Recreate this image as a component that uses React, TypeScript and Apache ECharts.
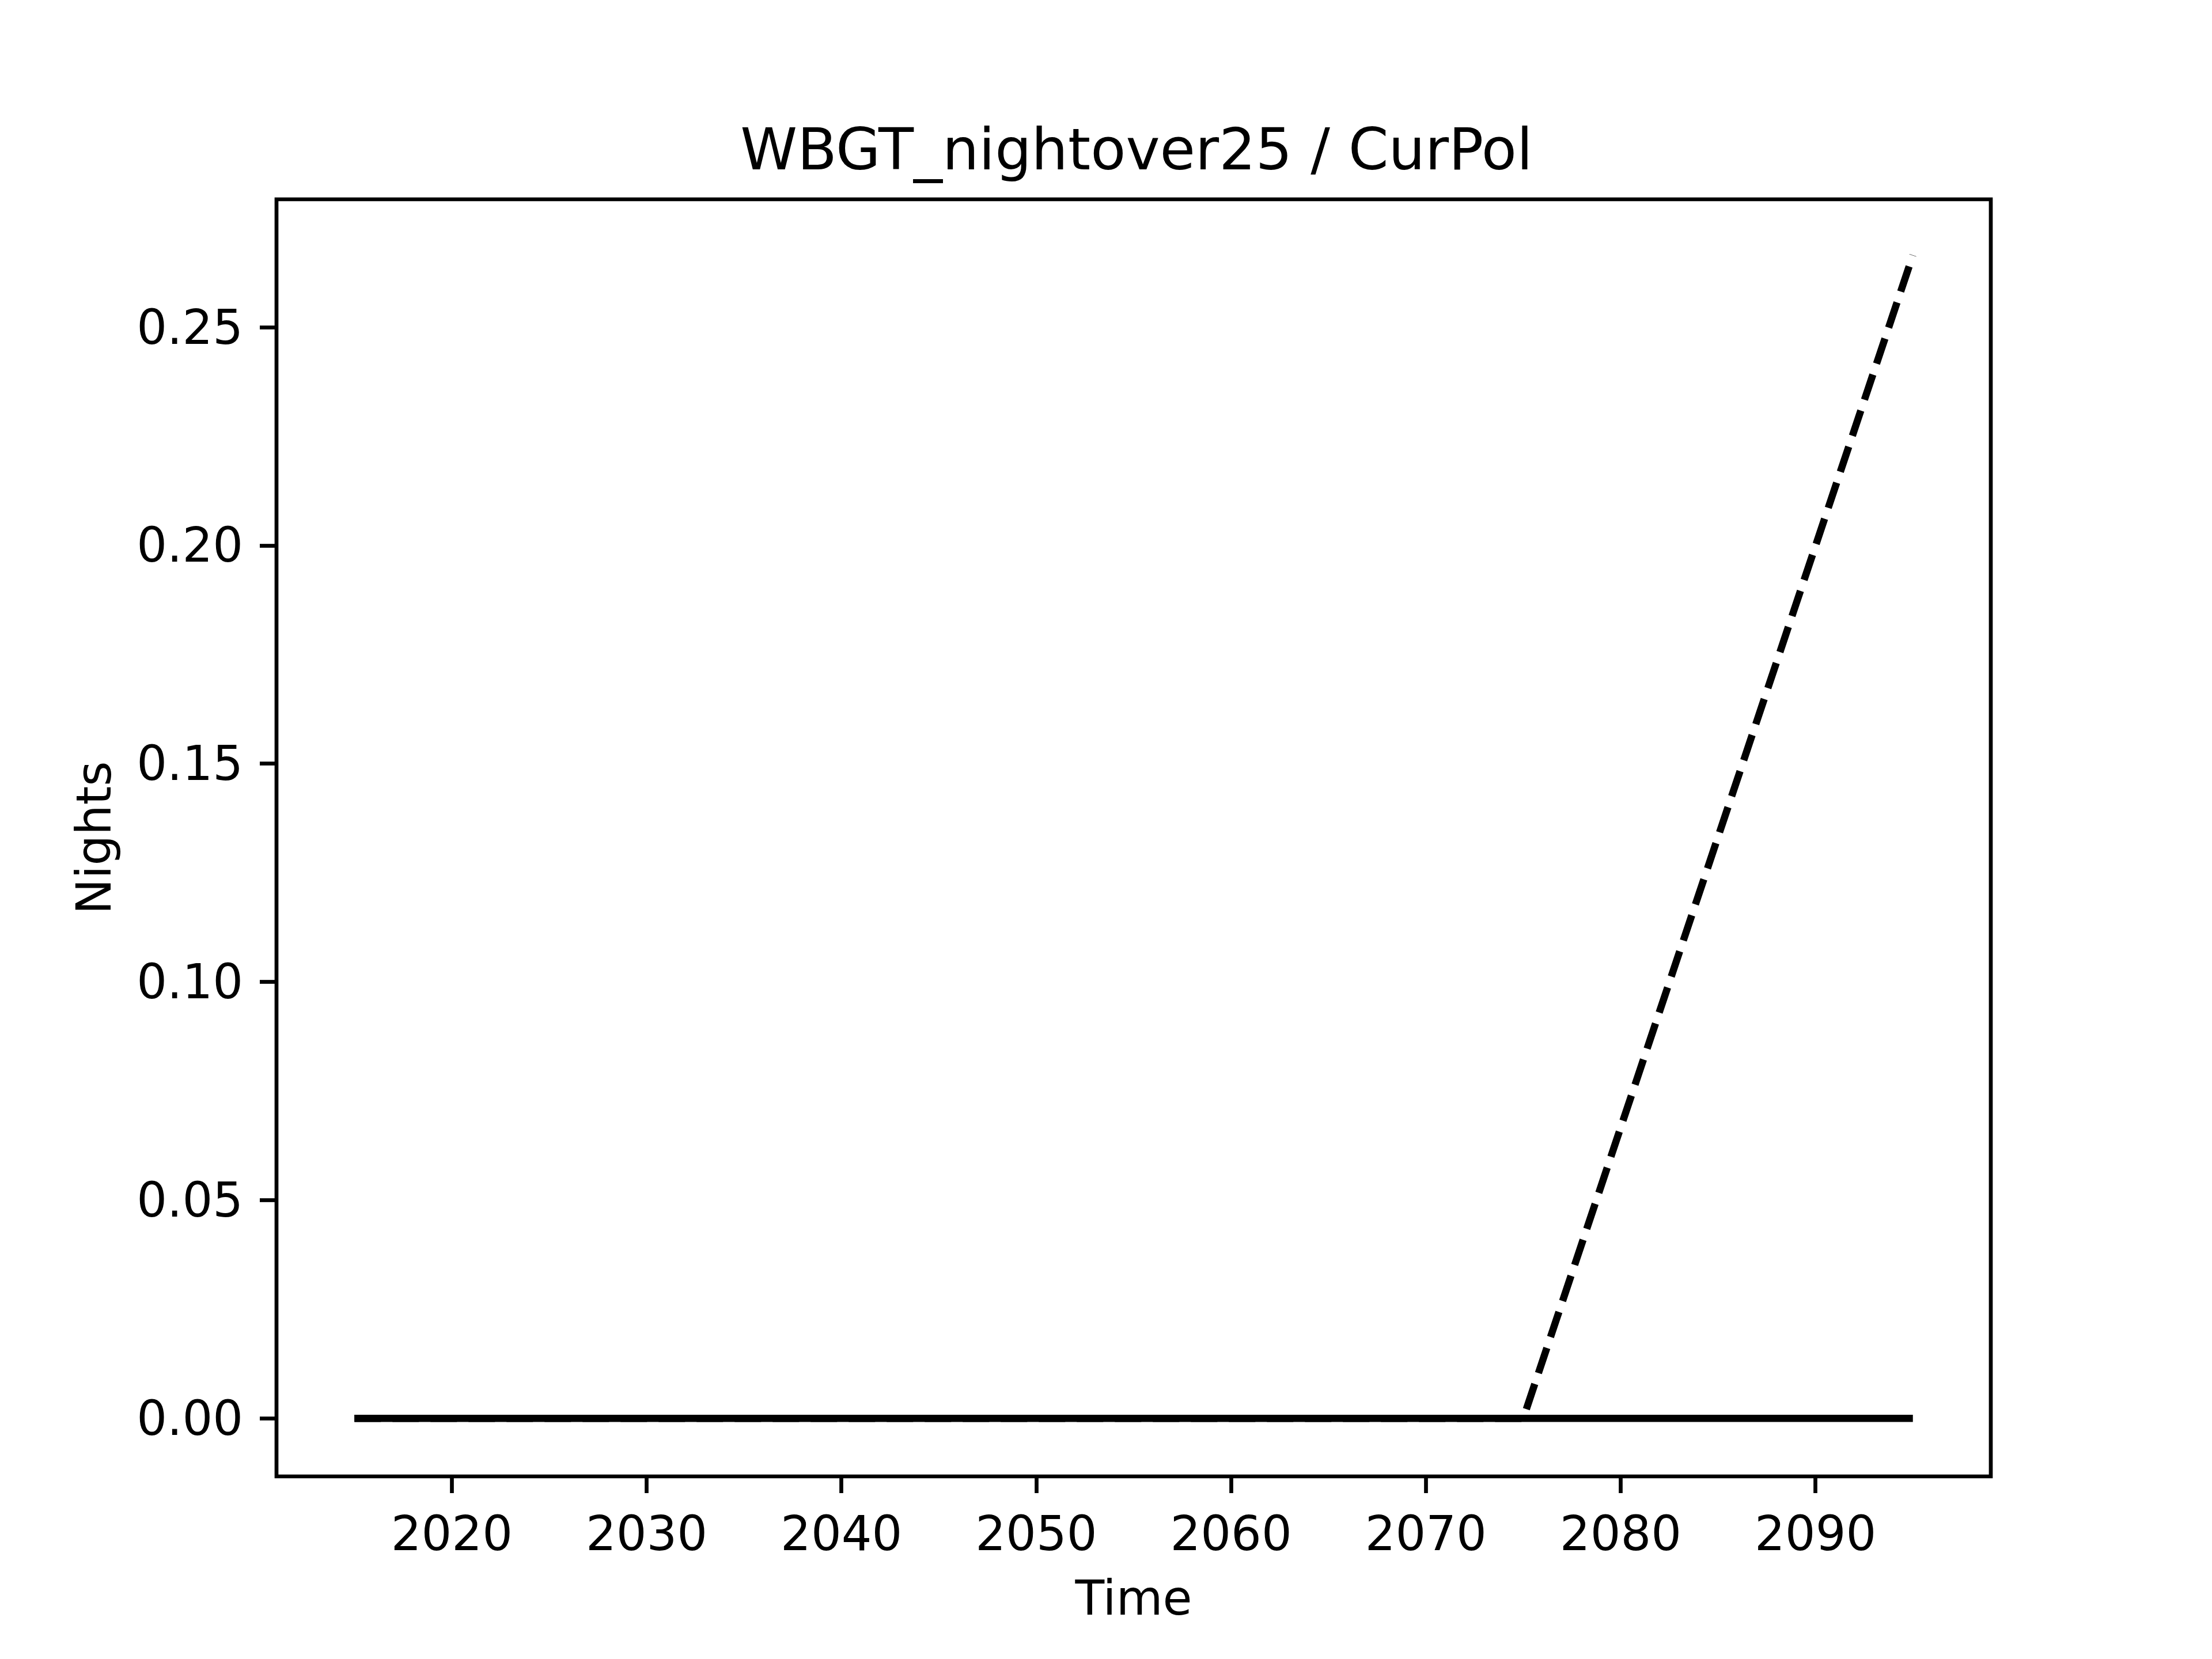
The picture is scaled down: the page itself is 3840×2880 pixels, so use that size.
import React, { useEffect, useRef } from "react";
import * as echarts from "echarts";

const years = [2015, 2035, 2055, 2075, 2095];
const solidValues = [0, 0, 0, 0, 0];
const dashedValues = [0, 0, 0, 0, 0.2665];
const xTicks = [2020, 2030, 2040, 2050, 2060, 2070, 2080, 2090];
const yTicks = [0, 0.05, 0.1, 0.15, 0.2, 0.25];
const titleText = "WBGT_nightover25 / CurPol";
const xName = "Time";
const yName = "Nights";

const FONT = "DejaVu Sans";

export default function App() {
  const ref = useRef<HTMLDivElement>(null);
  useEffect(() => {
    if (!ref.current) return;
    const chart = echarts.init(ref.current, undefined, { renderer: "svg" });
    const tickStyle = { show: true, length: 29, inside: false, lineStyle: { color: "#000", width: 6.7 } };
    chart.setOption({
      animation: false,
      backgroundColor: "#fff",
      title: {
        text: titleText,
        left: 1968,
        top: 204,
        textAlign: "center",
        textStyle: { fontFamily: FONT, fontSize: 100, fontWeight: "normal", color: "#000" },
      },
      grid: {
        left: 480,
        right: 384,
        top: 346,
        bottom: 317,
        show: true,
        borderColor: "#000",
        borderWidth: 6.7,
        backgroundColor: "transparent",
        containLabel: false,
      },
      xAxis: {
        type: "value",
        min: 2011,
        max: 2099,
        position: "bottom",
        name: xName,
        nameLocation: "middle",
        nameGap: 170,
        nameTextStyle: { fontFamily: FONT, fontSize: 83, color: "#000" },
        axisLine: { show: false, onZero: false },
        splitLine: { show: false },
        axisTick: { ...tickStyle, customValues: xTicks },
        axisLabel: {
          customValues: xTicks,
          margin: 58,
          fontFamily: FONT,
          fontSize: 83,
          color: "#000",
          formatter: (v: number) => String(v),
        },
      },
      yAxis: {
        type: "value",
        min: -0.0133,
        max: 0.2793,
        position: "left",
        name: yName,
        nameLocation: "middle",
        nameGap: 275,
        nameRotate: 90,
        nameTextStyle: { fontFamily: FONT, fontSize: 83, color: "#000" },
        axisLine: { show: false, onZero: false },
        splitLine: { show: false },
        axisTick: { ...tickStyle, customValues: yTicks },
        axisLabel: {
          customValues: yTicks,
          margin: 58,
          fontFamily: FONT,
          fontSize: 83,
          color: "#000",
          formatter: (v: number) => v.toFixed(2),
        },
      },
      series: [
        {
          type: "line",
          data: years.map((y, i) => [y, solidValues[i]]),
          showSymbol: false,
          lineStyle: { color: "#000", width: 12.5, type: "solid", cap: "butt" },
          z: 2,
        },
        {
          type: "line",
          data: years.map((y, i) => [y, dashedValues[i]]),
          showSymbol: false,
          lineStyle: { color: "#000", width: 12.5, type: [46, 20], cap: "butt" },
          z: 3,
        },
      ],
    });
    return () => chart.dispose();
  }, []);
  return (
    <div
      ref={ref}
      style={{ position: "absolute", left: 0, top: 0, width: 3840, height: 2880, background: "#fff" }}
    />
  );
}
